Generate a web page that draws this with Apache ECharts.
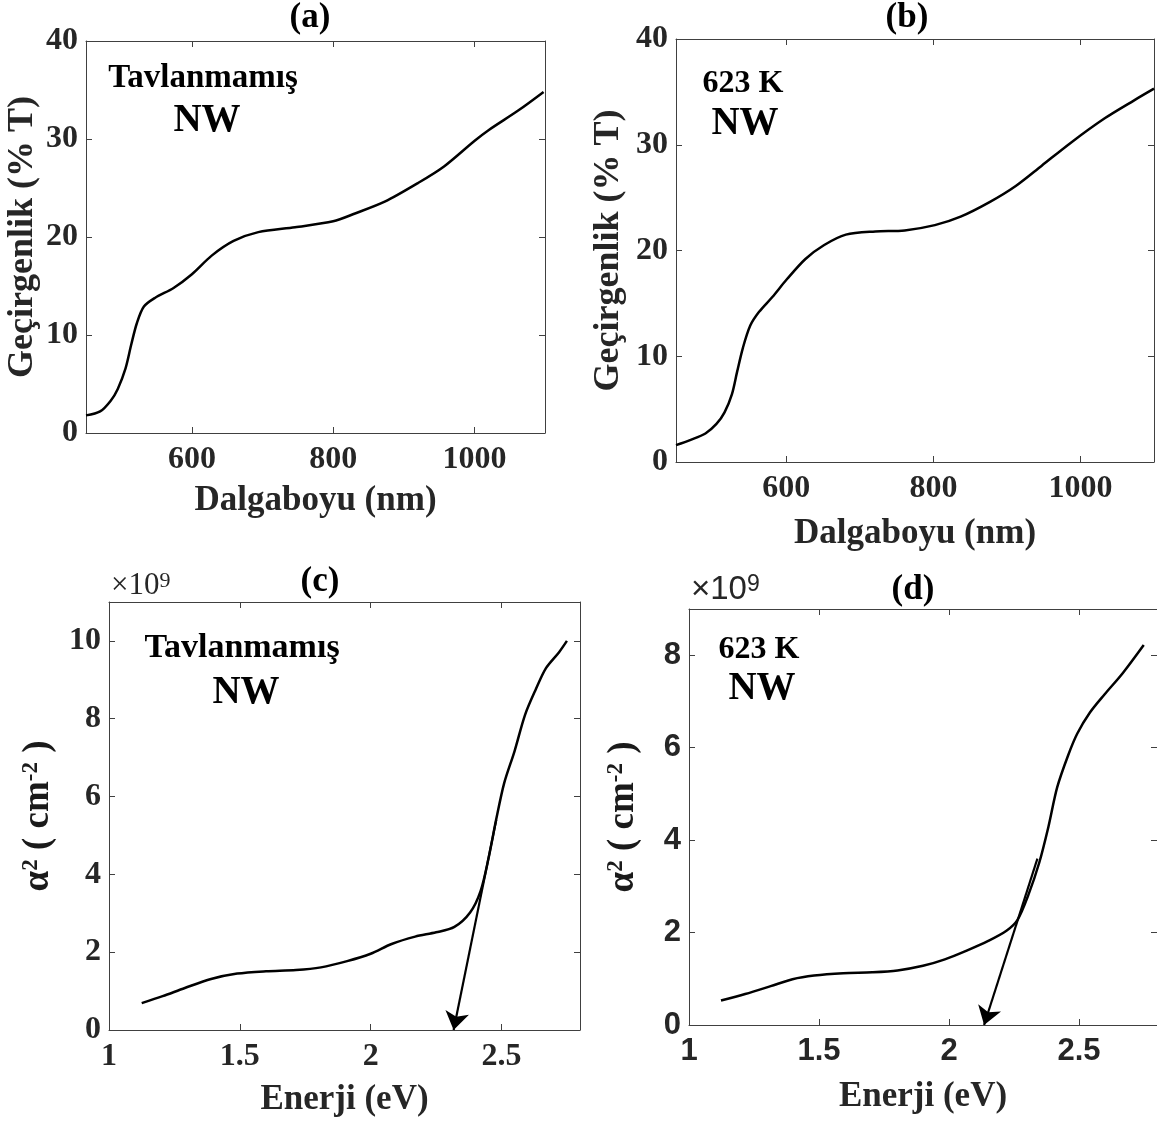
<!DOCTYPE html>
<html><head><meta charset="utf-8">
<script src="https://cdn.jsdelivr.net/npm/echarts@6/dist/echarts.min.js"></script>
<style>html,body{margin:0;padding:0;background:#fff}#c{width:1157px;height:1124px}</style>
</head><body><div id="c"></div>
<script>
// ---------- data ----------
const waveA  = [450,470,485,495,506,514,522,532,548,574,600,628,659,694,746,800,831,873,920,957,1000,1020,1062,1098];
const transA = [1.8,2.2,3.3,4.5,6.6,9.0,11.2,12.9,13.8,14.8,16.2,18.1,19.6,20.5,21.0,21.6,22.4,23.6,25.5,27.2,29.8,30.9,32.9,34.8];
const waveB  = [450,470,490,505,516,526,533,541,551,563,581,601,626,651,681,721,761,802,837,877,912,947,987,1033,1073,1100];
const transB = [1.6,2.1,2.7,3.6,4.7,6.4,8.5,10.8,12.9,14.2,15.6,17.3,19.2,20.5,21.5,21.8,21.9,22.4,23.2,24.6,26.1,28.0,30.2,32.5,34.2,35.3];
const energyC = [1.125,1.205,1.29,1.39,1.49,1.60,1.715,1.81,1.91,2.0,2.08,2.17,2.25,2.32,2.38,2.42,2.45,2.48,2.51,2.55,2.59,2.63,2.67,2.72,2.75];
const alphaC  = [0.69,0.87,1.08,1.31,1.45,1.51,1.54,1.61,1.77,1.96,2.21,2.40,2.51,2.65,3.02,3.57,4.4,5.42,6.34,7.17,8.1,8.74,9.3,9.71,10.0];
const energyD = [1.123,1.216,1.314,1.398,1.481,1.593,1.705,1.802,1.90,1.984,2.068,2.151,2.221,2.263,2.305,2.347,2.382,2.416,2.458,2.493,2.542,2.598,2.668,2.749];
const alphaD  = [0.53,0.67,0.84,0.99,1.07,1.12,1.14,1.18,1.28,1.42,1.61,1.82,2.04,2.27,2.81,3.51,4.28,5.14,5.83,6.30,6.76,7.15,7.61,8.22];
// tangent lines (start, arrow tip on the energy axis)
const tangentC = [[2.48,5.4],[2.317,0]];
const tangentD = [[2.34,3.6],[2.135,0]];
// tick labels
const waveTicks = [600,800,1000];
const transTicks = [0,10,20,30,40];
const energyTicks = [1,1.5,2,2.5];
const alphaTicksC = [0,2,4,6,8,10];
const alphaTicksD = [0,2,4,6,8];
const panelTitles = ['(a)','(b)','(c)','(d)'];
const sampleLabels = ['Tavlanmamış','623 K','Tavlanmamış','623 K'];

// ---------- styling ----------
const SERIF = '"Liberation Serif","Times New Roman",serif';
const SANS = '"Liberation Sans",Arial,sans-serif';
const AX = '#404040', TXT = '#262626';

const zip = (a,b) => a.map((v,i)=>[v,b[i]]);
const alphaName = '{a|α}{s|2}{n| ( cm}{s|-2}{n| )}';
const alphaRich = {
  a:{fontFamily:SERIF,fontWeight:'bold',fontSize:37,color:'#1a1a1a'},
  n:{fontFamily:SERIF,fontWeight:'bold',fontSize:37,color:'#1a1a1a'},
  s:{fontFamily:SERIF,fontWeight:'bold',fontSize:23,color:'#1a1a1a',verticalAlign:'top'}
};

const panels = [
  {grid:{left:86,top:41,width:459,height:392}, xr:[450,1100], yr:[0,40], xt:waveTicks, yt:transTicks,
   xName:'Dalgaboyu (nm)', yName:'Geçirgenlik (% T)', xGap:50, yGap:45, tickFont:SERIF, data:zip(waveA,transA)},
  {grid:{left:676,top:39,width:478,height:423}, xr:[450,1100], yr:[0,40], xt:waveTicks, yt:transTicks,
   xName:'Dalgaboyu (nm)', yName:'Geçirgenlik (% T)', xGap:54, yGap:49, tickFont:SERIF, data:zip(waveB,transB)},
  {grid:{left:109,top:602,width:471,height:428}, xr:[1,2.8], yr:[0,11], xt:energyTicks, yt:alphaTicksC,
   xName:'Enerji (eV)', yName:alphaName, xGap:52, yGap:52, tickFont:SERIF, data:zip(energyC,alphaC), tan:tangentC},
  {grid:{left:689,top:609,width:477,height:416}, xr:[1,2.8], yr:[0,9], xt:energyTicks, yt:alphaTicksD,
   xName:'Enerji (eV)', yName:alphaName, xGap:54, yGap:47, tickFont:SANS, data:zip(energyD,alphaD), tan:tangentD}
];

const grid=[], xAxis=[], yAxis=[], series=[];
panels.forEach((p,i)=>{
  grid.push(p.grid);
  const tick = {show:true, inside:true, length:6, lineStyle:{color:AX,width:1}};
  const lbl = {fontFamily:p.tickFont, fontWeight:'bold', fontSize:p.tickFont===SANS?31:32, color:TXT, formatter:v=>String(v)};
  const nameStyle = {fontFamily:SERIF, fontWeight:'bold', fontSize:35, color:TXT};
  xAxis.push({type:'value', gridIndex:i, position:'bottom', min:p.xr[0], max:p.xr[1],
    axisLine:{show:true,onZero:false,lineStyle:{color:AX,width:1}},
    axisTick:Object.assign({customValues:p.xt},tick),
    axisLabel:Object.assign({customValues:p.xt, margin:11},lbl),
    splitLine:{show:false},
    name:p.xName, nameLocation:'middle', nameGap:p.xGap, nameTextStyle:nameStyle});
  xAxis.push({type:'value', gridIndex:i, position:'top', min:p.xr[0], max:p.xr[1],
    axisLine:{show:true,onZero:false,lineStyle:{color:AX,width:1}},
    axisTick:Object.assign({customValues:p.xt},tick),
    axisLabel:{show:false}, splitLine:{show:false}});
  const yNameStyle = i>=2 ? {rich:alphaRich} : Object.assign({}, nameStyle, {fontSize:36});
  yAxis.push({type:'value', gridIndex:i, position:'left', min:p.yr[0], max:p.yr[1],
    axisLine:{show:true,onZero:false,lineStyle:{color:AX,width:1}},
    axisTick:Object.assign({customValues:p.yt},tick),
    axisLabel:Object.assign({customValues:p.yt, margin:8},lbl),
    splitLine:{show:false},
    name:p.yName, nameLocation:'middle', nameGap:p.yGap, nameRotate:90, nameTextStyle:yNameStyle});
  yAxis.push({type:'value', gridIndex:i, position:'right', min:p.yr[0], max:p.yr[1],
    axisLine:{show:true,onZero:false,lineStyle:{color:AX,width:1}},
    axisTick:Object.assign({customValues:p.yt},tick),
    axisLabel:{show:false}, splitLine:{show:false}});
  series.push({type:'line', xAxisIndex:2*i, yAxisIndex:2*i, data:p.data, showSymbol:false,
    smooth:0.3, lineStyle:{color:'#000',width:2.5}, silent:true});
  if(p.tan){
    series.push({type:'lines', coordinateSystem:'cartesian2d', xAxisIndex:2*i, yAxisIndex:2*i,
      data:[{coords:p.tan}], symbol:['none','arrow'], symbolSize:[10,18],
      lineStyle:{color:'#000',width:2.2,opacity:1}, silent:true});
  }
});

const T = (text,x,y,size,extra) => Object.assign({type:'text', x, y, style:{text, fill:'#000',
  font:'bold '+size+'px '+SERIF, align:'center', verticalAlign:'middle'}}, extra||{});

const graphic = [
  T(panelTitles[0],310,18,35), T(panelTitles[1],907,18,35),
  T(panelTitles[2],320,582,35), T(panelTitles[3],913,590,35),
  T(sampleLabels[0],203,78,33), T('NW',207,121,39),
  T(sampleLabels[1],743,84,32), T('NW',745,124,39),
  T(sampleLabels[2],242,648,34), T('NW',246,693,39),
  T(sampleLabels[3],759,650,32), T('NW',762,689,39),
  {type:'text', x:111, y:586, style:{text:'×10{s|9}', fill:TXT, font:'31px '+SERIF, align:'left', verticalAlign:'middle',
     rich:{s:{fontSize:22, fontFamily:SERIF, verticalAlign:'top', fill:TXT}}}},
  {type:'text', x:691, y:590, style:{text:'×10{s|9}', fill:TXT, font:'33px '+SANS, align:'left', verticalAlign:'middle',
     rich:{s:{fontSize:23, fontFamily:SANS, verticalAlign:'top', fill:TXT}}}}
];

const chart = echarts.init(document.getElementById('c'), null, {renderer:'canvas'});
chart.setOption({animation:false, backgroundColor:'#fff', grid, xAxis, yAxis, series, graphic});
</script></body></html>
